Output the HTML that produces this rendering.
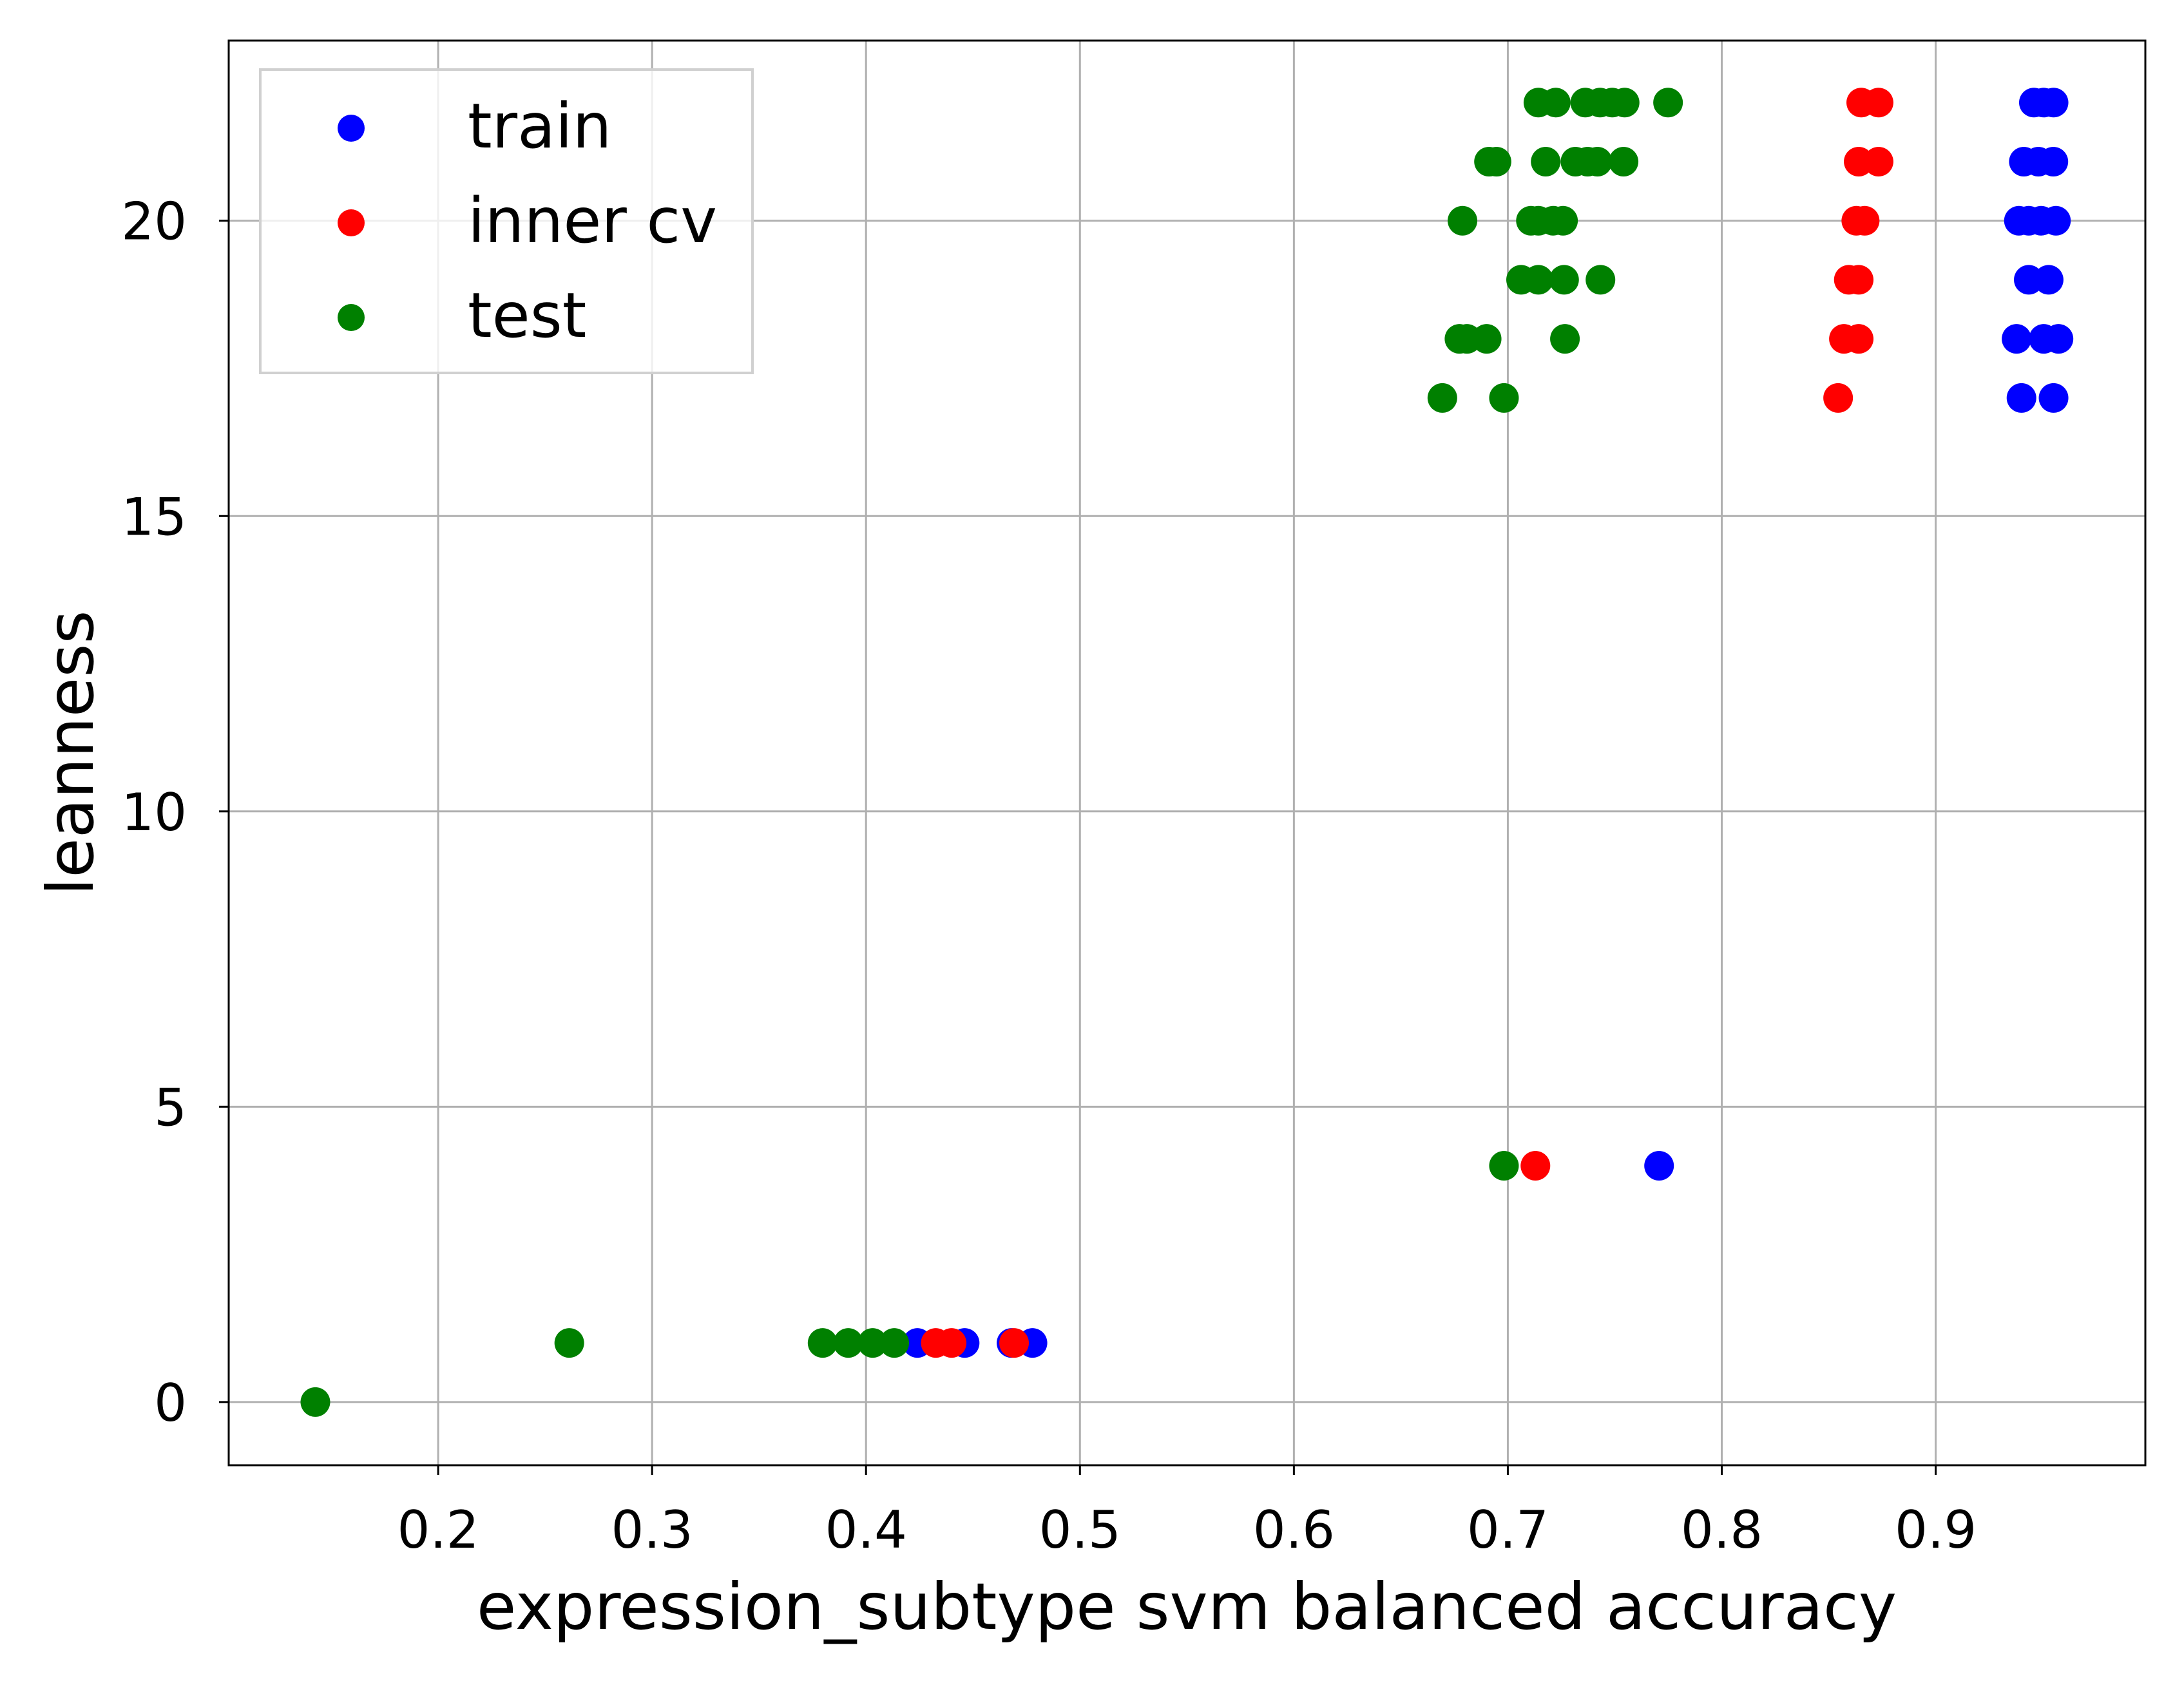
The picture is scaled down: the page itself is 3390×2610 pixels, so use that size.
<!DOCTYPE html>
<html><head><meta charset="utf-8"><style>
html,body{margin:0;padding:0;background:#fff;}
svg{display:block;font-family:"DejaVu Sans","Liberation Sans",sans-serif;}
</style></head><body>
<svg id="chart" width="3390" height="2610" viewBox="0 0 3390 2610">
<rect x="0" y="0" width="3390" height="2610" fill="#fff"/>
<g id="grid"></g>
<g id="marks"></g>
<rect x="355" y="63" width="2975" height="2212" fill="none" stroke="#000" stroke-width="3"/>
<g id="ticks"></g>
<text x="1842" y="2529" font-size="100" text-anchor="middle">expression_subtype svm balanced accuracy</text>
<text transform="translate(144,1169) rotate(-90)" font-size="100" text-anchor="middle">leanness</text>
<g>
<rect x="404" y="108" width="764" height="471" fill="#fff" fill-opacity="0.8" stroke="#d0d0d0" stroke-width="4"/>
<circle cx="545" cy="199" r="21" fill="blue"/>
<text x="726" y="229" font-size="96">train</text>
<circle cx="545" cy="346" r="21" fill="red"/>
<text x="726" y="376" font-size="96">inner cv</text>
<circle cx="545" cy="493" r="21" fill="green"/>
<text x="726" y="523" font-size="96">test</text>
</g>
</svg>
<script>
const xTicks=[0.2,0.3,0.4,0.5,0.6,0.7,0.8,0.9];
const yTicks=[0,5,10,15,20];
const trainX=[0.9459,0.9505,0.9551,0.9412,0.948,0.955,0.9389,0.9435,0.9493,0.9562,0.9435,0.9528,0.9378,0.9505,0.9574,0.9401,0.9551,0.7707,0.424,0.4461,0.4778,0.468];
const trainY=[22,22,22,21,21,21,20,20,20,20,19,19,18,18,18,17,17,4,1,1,1,1];
const cvX=[0.8652,0.8733,0.864,0.8733,0.8629,0.8668,0.8594,0.864,0.8571,0.864,0.8544,0.7129,0.4326,0.44,0.4692];
const cvY=[22,22,21,21,20,20,19,19,18,18,17,4,1,1,1];
const testX=[0.7143,0.7224,0.7362,0.7431,0.7488,0.7546,0.7749,0.6912,0.6947,0.7177,0.7316,0.7373,0.7419,0.7541,0.6788,0.7108,0.7143,0.7212,0.7258,0.7062,0.7143,0.7263,0.7433,0.6774,0.6809,0.6901,0.7267,0.6694,0.6982,0.6982,0.3797,0.3917,0.4031,0.4132,0.2613,0.1426];
const testY=[22,22,22,22,22,22,22,21,21,21,21,21,21,21,20,20,20,20,20,19,19,19,19,18,18,18,18,17,17,4,1,1,1,1,1,0];
const xMin=0.1021,xMax=0.998,yMin=-1.07,yMax=23.05;
const L=355,R=3330,T=63,B=2275;
function sx(v){return L+(v-xMin)/(xMax-xMin)*(R-L);}
function sy(v){return B-(v-yMin)/(yMax-yMin)*(B-T);}
const NS="http://www.w3.org/2000/svg";
const grid=document.getElementById('grid'),ticks=document.getElementById('ticks'),marks=document.getElementById('marks');
xTicks.forEach(t=>{
 const x=sx(t);
 const g=document.createElementNS(NS,'line');
 g.setAttribute('x1',x);g.setAttribute('x2',x);g.setAttribute('y1',T);g.setAttribute('y2',B);
 g.setAttribute('stroke','#b0b0b0');g.setAttribute('stroke-width','3');
 
 
 grid.appendChild(g);
 const tk=document.createElementNS(NS,'line');
 tk.setAttribute('x1',x);tk.setAttribute('x2',x);tk.setAttribute('y1',B);tk.setAttribute('y2',B+15);
 tk.setAttribute('stroke','#000');tk.setAttribute('stroke-width','3');
 
 
 ticks.appendChild(tk);
 const tx=document.createElementNS(NS,'text');
 tx.setAttribute('x',x);tx.setAttribute('y',2403);tx.setAttribute('font-size','80');tx.setAttribute('text-anchor','middle');
 tx.textContent=t.toFixed(1);
 
 
 ticks.appendChild(tx);
});
yTicks.forEach(t=>{
 const y=sy(t);
 const g=document.createElementNS(NS,'line');
 g.setAttribute('x1',L);g.setAttribute('x2',R);g.setAttribute('y1',y);g.setAttribute('y2',y);
 g.setAttribute('stroke','#b0b0b0');g.setAttribute('stroke-width','3');
 
 
 grid.appendChild(g);
 const tk=document.createElementNS(NS,'line');
 tk.setAttribute('x1',L-15);tk.setAttribute('x2',L);tk.setAttribute('y1',y);tk.setAttribute('y2',y);
 tk.setAttribute('stroke','#000');tk.setAttribute('stroke-width','3');
 
 
 ticks.appendChild(tk);
 const tx=document.createElementNS(NS,'text');
 tx.setAttribute('x',290);tx.setAttribute('y',y+29);tx.setAttribute('font-size','80');tx.setAttribute('text-anchor','end');
 tx.textContent=String(t);
 
 
 ticks.appendChild(tx);
});
function drawSeries(xs,ys,color,name){
 xs.forEach((v,i)=>{
  const c=document.createElementNS(NS,'circle');
  c.setAttribute('cx',sx(v));c.setAttribute('cy',sy(ys[i]));c.setAttribute('r','23');c.setAttribute('fill',color);
  
  
  marks.appendChild(c);
 });
}
drawSeries(trainX,trainY,'blue','train-point');
drawSeries(cvX,cvY,'red','inner-cv-point');
drawSeries(testX,testY,'green','test-point');
</script>
</body></html>
